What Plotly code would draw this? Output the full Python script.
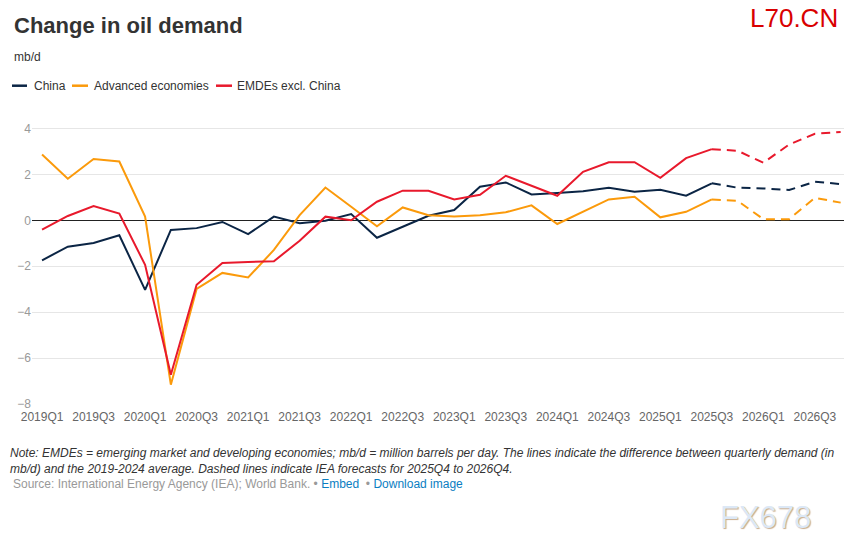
import plotly.graph_objects as go

quarters = [f"{y}Q{q}" for y in range(2019, 2027) for q in range(1, 5)]

china = [-1.74, -1.15, -0.99, -0.65, -3.03, -0.42, -0.34, -0.07, -0.60, 0.16,
         -0.13, -0.02, 0.27, -0.76, -0.28, 0.20, 0.45, 1.46, 1.65, 1.13,
         1.19, 1.27, 1.42, 1.24, 1.33, 1.07, 1.61, 1.42, 1.39, 1.32, 1.68, 1.58]
advanced = [2.87, 1.81, 2.67, 2.56, 0.16, -7.16, -2.99, -2.29, -2.49, -1.29,
            0.23, 1.43, 0.59, -0.26, 0.56, 0.22, 0.17, 0.22, 0.35, 0.65,
            -0.16, 0.37, 0.91, 1.03, 0.13, 0.37, 0.91, 0.85, 0.05, 0.05, 0.98, 0.77]
emdes = [-0.41, 0.19, 0.62, 0.29, -1.94, -6.73, -2.81, -1.86, -1.81, -1.78,
         -0.89, 0.16, 0.00, 0.81, 1.29, 1.29, 0.91, 1.11, 1.94, 1.51,
         1.07, 2.11, 2.53, 2.53, 1.85, 2.71, 3.10, 3.03, 2.51, 3.30, 3.77, 3.85]

forecast_start = "2025Q4"
series_names = ["China", "Advanced economies", "EMDEs excl. China"]
series_values = [china, advanced, emdes]
series_colors = ["#0b2545", "#fb9a0b", "#e8192c"]

y_ticks = [-8, -6, -4, -2, 0, 2, 4]
x_tick_labels = quarters[::2]

idx = list(range(len(quarters)))
fc = quarters.index(forecast_start)

fig = go.Figure()
for name, vals, col in zip(series_names, series_values, series_colors):
    fig.add_trace(go.Scatter(x=idx[:fc], y=vals[:fc], mode="lines", name=name,
                             line=dict(color=col, width=2), showlegend=False,
                             hoverinfo="skip"))
    fig.add_trace(go.Scatter(x=idx[fc - 1:], y=vals[fc - 1:], mode="lines", name=name,
                             line=dict(color=col, width=2, dash="9px,6px"),
                             showlegend=False, hoverinfo="skip"))

fig.update_layout(
    width=844, height=553,
    margin=dict(l=32, r=0, t=117, b=149),
    paper_bgcolor="white", plot_bgcolor="white",
    font=dict(family="Liberation Sans, Arial, sans-serif", size=12, color="#333"),
    showlegend=False,
)
fig.update_xaxes(range=[-0.39, 31.13], tickvals=idx[::2], ticktext=x_tick_labels,
                 showgrid=False, zeroline=False, showline=False,
                 tickfont=dict(color="#666", size=12), ticks="", ticklabelstandoff=4,
                 fixedrange=True)
fig.update_yaxes(range=[-8, 4.5], tickvals=y_ticks,
                 ticktext=[str(v).replace("-", "\u2212") for v in y_ticks],
                 showgrid=True, gridcolor="#e6e6e6", gridwidth=1,
                 zeroline=True, zerolinecolor="#222", zerolinewidth=1,
                 tickfont=dict(color="#999", size=12), ticks="", fixedrange=True)


def px_x(px):
    return (px - 32) / 812


def px_y(py):
    return (553 - 149 - py) / (553 - 117 - 149)


# Header texts
fig.add_annotation(text="<b>Change in oil demand</b>", xref="paper", yref="paper",
                   x=px_x(12), y=px_y(26), xanchor="left", yanchor="middle",
                   showarrow=False, font=dict(size=22, color="#333"))
fig.add_annotation(text="mb/d", xref="paper", yref="paper", x=px_x(12), y=px_y(57),
                   xanchor="left", yanchor="middle", showarrow=False,
                   font=dict(size=12, color="#333"))

# Legend
leg = [(12, 27, 32), (72, 88, 92), (216, 232, 235)]
for (x0, x1, tx), name, col in zip(leg, series_names, series_colors):
    fig.add_shape(type="line", xref="paper", yref="paper", x0=px_x(x0), x1=px_x(x1),
                  y0=px_y(85.7), y1=px_y(85.7), line=dict(color=col, width=2.5))
    fig.add_annotation(text=name, xref="paper", yref="paper", x=px_x(tx), y=px_y(85.7),
                       xanchor="left", yanchor="middle", showarrow=False,
                       font=dict(size=12, color="#333"))

# Note and source
note = ("<i>Note: EMDEs = emerging market and developing economies; mb/d = million barrels per day. "
        "The lines indicate the difference between quarterly demand (in<br>mb/d) and the 2019-2024 "
        "average. Dashed lines indicate IEA forecasts for 2025Q4 to 2026Q4.</i>")
fig.add_annotation(text=note, xref="paper", yref="paper", x=px_x(8), y=px_y(444),
                   xanchor="left", yanchor="top", align="left", showarrow=False,
                   font=dict(size=12, color="#333"))
src = ("<span style='color:#999'>Source: International Energy Agency (IEA); World Bank. \u2022 </span>"
       "<span style='color:#0a7ec2'>Embed</span><span style='color:#999'>  \u2022 </span>"
       "<span style='color:#0a7ec2'>Download image</span>")
fig.add_annotation(text=src, xref="paper", yref="paper", x=px_x(11), y=px_y(484),
                   xanchor="left", yanchor="middle", align="left", showarrow=False,
                   font=dict(size=12, color="#999"))

# Watermarks
fig.add_annotation(text="L70.CN", xref="paper", yref="paper", x=px_x(840), y=px_y(18),
                   xanchor="right", yanchor="middle", showarrow=False,
                   font=dict(size=26, color="#d90000"))
fig.add_annotation(text="FX678", xref="paper", yref="paper", x=px_x(765), y=px_y(517),
                   xanchor="center", yanchor="middle", showarrow=False,
                   font=dict(size=31, color="#dce8f6", shadow="1px 1px 1px #c9ac8c"))

fig.write_html("out.html", config={"displayModeBar": False},
               post_script="document.body.style.margin='0';")
